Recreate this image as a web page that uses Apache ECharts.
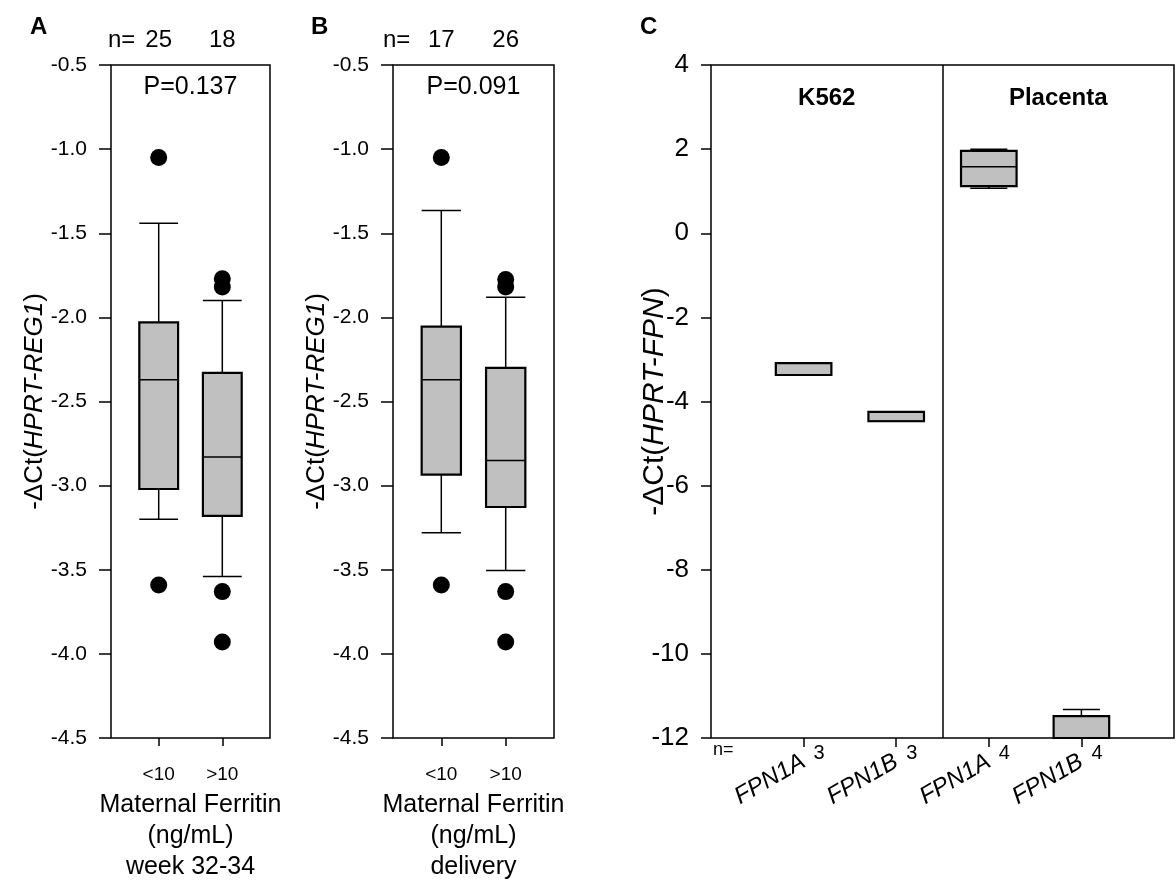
<!DOCTYPE html>
<html>
<head>
<meta charset="utf-8">
<script src="https://cdn.jsdelivr.net/npm/echarts@6/dist/echarts.min.js"></script>
<style>html,body{margin:0;padding:0;background:#fff}#c{width:1176px;height:882px}</style>
</head>
<body>
<div id="c"></div>
<script>
// ---------------- data ----------------
const catsAB = ['<10', '>10'];
const posAB = [1, 2];
const nA = [25, 18];
const nB = [17, 26];
const pTextA = 'P=0.137';
const pTextB = 'P=0.091';
// [min(whisker), Q1, median, Q3, max(whisker)]
const boxA = [[-3.20, -3.02, -2.37, -2.03, -1.44], [-3.54, -3.18, -2.83, -2.33, -1.90]];
const outA = [[-1.05, -3.59], [-1.77, -1.82, -3.63, -3.93]];
const boxB = [[-3.28, -2.935, -2.37, -2.055, -1.365], [-3.505, -3.127, -2.85, -2.30, -1.88]];
const outB = [[-1.05, -3.59], [-1.775, -1.82, -3.63, -3.93]];
const xTitleA = 'Maternal Ferritin\n(ng/mL)\nweek 32-34';
const xTitleB = 'Maternal Ferritin\n(ng/mL)\ndelivery';

const catsC = ['FPN1A', 'FPN1B', 'FPN1A', 'FPN1B'];
const posC = [1, 2, 3, 4];
const nC = [3, 3, 4, 4];
const boxC = [[-3.37, -3.37, -3.37, -3.09, -3.09], [-4.47, -4.47, -4.47, -4.245, -4.245],
              [1.07, 1.12, 1.58, 1.96, 1.995], [-12.0, -12.0, -12.0, -11.48, -11.32]];
const groupsC = ['K562', 'Placenta'];
const groupPosC = [1.25, 3.75];
const groupDividerC = 2.5;

// ---------------- styling / helpers ----------------
const FONT = '"Liberation Sans", Arial, Helvetica, sans-serif';
const BLACK = '#000';

function boxRenderer(halfBox, halfCap) {
  return function (params, api) {
    const x = api.value(0);
    const lo = api.value(1), q1 = api.value(2), med = api.value(3), q3 = api.value(4), hi = api.value(5);
    const c = (xx, v) => api.coord([xx, v]);
    const cx = c(x, med)[0];
    const bl = c(x - halfBox, q3), br = c(x + halfBox, q1);
    const capL = c(x - halfCap, med)[0], capR = c(x + halfCap, med)[0];
    const ls = { stroke: BLACK, lineWidth: 1.5, fill: null };
    const kids = [];
    if (hi > q3) {
      const yh = c(x, hi)[1], yq = c(x, q3)[1];
      kids.push({ type: 'line', shape: { x1: cx, y1: yq, x2: cx, y2: yh }, style: ls });
      kids.push({ type: 'line', shape: { x1: capL, y1: yh, x2: capR, y2: yh }, style: ls });
    }
    if (lo < q1) {
      const yl = c(x, lo)[1], yq = c(x, q1)[1];
      kids.push({ type: 'line', shape: { x1: cx, y1: yq, x2: cx, y2: yl }, style: ls });
      kids.push({ type: 'line', shape: { x1: capL, y1: yl, x2: capR, y2: yl }, style: ls });
    }
    kids.push({ type: 'rect', shape: { x: bl[0], y: bl[1], width: br[0] - bl[0], height: br[1] - bl[1] },
      style: { fill: '#c0c0c0', stroke: BLACK, lineWidth: 2.2 } });
    const ym = c(x, med)[1];
    kids.push({ type: 'line', shape: { x1: bl[0], y1: ym, x2: br[0], y2: ym }, style: ls });
    return { type: 'group', children: kids };
  };
}

function boxData(pos, boxes) { return boxes.map((b, i) => [pos[i]].concat(b)); }
function outData(pos, outs) { const r = []; outs.forEach((arr, i) => arr.forEach(v => r.push([pos[i], v]))); return r; }

const gridTop = 65, gridH = 673;
const grids = [
  { left: 111, top: gridTop, width: 159, height: gridH },
  { left: 393, top: gridTop, width: 161, height: gridH },
  { left: 711, top: gridTop, width: 463, height: gridH }
];
grids.forEach(g => { g.show = true; g.borderColor = BLACK; g.borderWidth = 1.5; g.backgroundColor = 'transparent';
  g.containLabel = false; g.outerBoundsMode = 'none'; });

function abBottomAxis(gi, title) {
  return {
    type: 'value', gridIndex: gi, position: 'bottom', min: 0.25, max: 2.75,
    axisLine: { show: false, onZero: false }, splitLine: { show: false },
    axisTick: { show: true, customValues: posAB, length: 8, lineStyle: { color: BLACK, width: 1.5 } },
    axisLabel: { customValues: posAB, formatter: v => catsAB[posAB.indexOf(v)] || '', margin: 27,
      fontSize: 19, color: BLACK, fontFamily: FONT },
    name: title, nameLocation: 'middle', nameGap: 52, nameMoveOverlap: false,
    nameTextStyle: { fontSize: 25, lineHeight: 31, color: BLACK, fontFamily: FONT, align: 'center' }
  };
}
function abTopAxis(gi, counts) {
  return {
    type: 'value', gridIndex: gi, position: 'top', min: 0.25, max: 2.75,
    axisLine: { show: false, onZero: false }, splitLine: { show: false }, axisTick: { show: false },
    axisLabel: { customValues: posAB, formatter: v => String(counts[posAB.indexOf(v)] ?? ''), margin: 13,
      fontSize: 24, color: BLACK, fontFamily: FONT }
  };
}
function abYAxis(gi) {
  return {
    type: 'value', gridIndex: gi, min: -4.5, max: -0.5, interval: 0.5,
    axisLine: { show: false, onZero: false }, splitLine: { show: false },
    axisTick: { show: true, length: 12, lineStyle: { color: BLACK, width: 1.5 } },
    axisLabel: { formatter: v => v.toFixed(1), margin: 24, fontSize: 21, color: BLACK, fontFamily: FONT },
    name: '{n|-\u0394Ct(}{i|HPRT-REG1}{n|)}', nameLocation: 'middle', nameGap: 63, nameMoveOverlap: false,
    nameTextStyle: { fontSize: 26, color: BLACK, fontFamily: FONT,
      rich: { n: { fontSize: 26, fontFamily: FONT, color: BLACK }, i: { fontSize: 26, fontFamily: FONT, fontStyle: 'italic', color: BLACK } } }
  };
}

const xAxes = [
  abBottomAxis(0, xTitleA), abTopAxis(0, nA),
  abBottomAxis(1, xTitleB), abTopAxis(1, nB),
  { type: 'value', gridIndex: 2, position: 'bottom', min: 0, max: 5,
    axisLine: { show: false, onZero: false }, splitLine: { show: false },
    axisTick: { show: true, customValues: posC, length: 9, lineStyle: { color: BLACK, width: 1.5 } },
    axisLabel: { customValues: posC, formatter: v => catsC[posC.indexOf(v)] || '', rotate: 30, margin: 22,
      fontSize: 24, fontStyle: 'italic', color: BLACK, fontFamily: FONT } },
  { type: 'value', gridIndex: 2, position: 'bottom', min: 0, max: 5,
    axisLine: { show: false, onZero: false }, splitLine: { show: false }, axisTick: { show: false },
    axisLabel: { customValues: posC, formatter: v => String(nC[posC.indexOf(v)] ?? ''), align: 'left',
      padding: [0, 0, 0, 10], margin: 5, fontSize: 20, color: BLACK, fontFamily: FONT } }
];

const yAxes = [
  abYAxis(0), abYAxis(1),
  { type: 'value', gridIndex: 2, min: -12, max: 4, interval: 2,
    axisLine: { show: false, onZero: false }, splitLine: { show: false },
    axisTick: { show: true, length: 10, lineStyle: { color: BLACK, width: 1.5 } },
    axisLabel: { formatter: v => String(v), margin: 22, fontSize: 26, color: BLACK, fontFamily: FONT },
    name: '{n|-\u0394Ct(}{i|HPRT-FPN}{n|)}', nameLocation: 'middle', nameGap: 41, nameMoveOverlap: false,
    nameTextStyle: { fontSize: 30, color: BLACK, fontFamily: FONT,
      rich: { n: { fontSize: 30, fontFamily: FONT, color: BLACK }, i: { fontSize: 30, fontFamily: FONT, fontStyle: 'italic', color: BLACK } } } }
];

const outlierStyle = { type: 'scatter', symbol: 'circle', symbolSize: 17, itemStyle: { color: BLACK, opacity: 1 }, z: 5 };

const series = [
  { type: 'custom', xAxisIndex: 0, yAxisIndex: 0, renderItem: boxRenderer(0.305, 0.305), data: boxData(posAB, boxA), encode: { x: 0, y: [1, 2, 3, 4, 5] } },
  Object.assign({ xAxisIndex: 0, yAxisIndex: 0, data: outData(posAB, outA) }, outlierStyle),
  { type: 'custom', xAxisIndex: 2, yAxisIndex: 1, renderItem: boxRenderer(0.305, 0.305), data: boxData(posAB, boxB), encode: { x: 0, y: [1, 2, 3, 4, 5] } },
  Object.assign({ xAxisIndex: 2, yAxisIndex: 1, data: outData(posAB, outB) }, outlierStyle),
  { type: 'custom', xAxisIndex: 4, yAxisIndex: 2, renderItem: boxRenderer(0.30, 0.20), data: boxData(posC, boxC), encode: { x: 0, y: [1, 2, 3, 4, 5] },
    markLine: { silent: true, symbol: ['none', 'none'], label: { show: false },
      lineStyle: { color: BLACK, width: 1.5, type: 'solid', opacity: 1 }, data: [{ xAxis: groupDividerC }] } },
  { type: 'scatter', xAxisIndex: 4, yAxisIndex: 2, symbolSize: 0, silent: true, itemStyle: { opacity: 1 },
    data: groupsC.map((g, i) => ({ value: [groupPosC[i], 3.2], name: g })),
    label: { show: true, position: 'inside', formatter: p => p.name, fontSize: 24, fontWeight: 'bold', color: BLACK, opacity: 1, fontFamily: FONT } }
];

function txt(x, y, text, size, extra) {
  return { type: 'text', x: x, y: y, silent: true,
    style: Object.assign({ text: text, fontSize: size, fontFamily: FONT, fill: BLACK, verticalAlign: 'middle', align: 'left' }, extra || {}) };
}
const graphic = [
  txt(30, 27, 'A', 24, { fontWeight: 'bold' }),
  txt(311, 27, 'B', 24, { fontWeight: 'bold' }),
  txt(640, 27, 'C', 24, { fontWeight: 'bold' }),
  txt(108, 40, 'n=', 24),
  txt(383, 40, 'n=', 24),
  txt(grids[0].left + grids[0].width / 2, 87, pTextA, 25, { align: 'center' }),
  txt(grids[1].left + grids[1].width / 2, 87, pTextB, 25, { align: 'center' }),
  txt(713, 750, 'n=', 18)
];

const chart = echarts.init(document.getElementById('c'), null, { renderer: 'canvas' });
chart.setOption({
  animation: false,
  backgroundColor: '#fff',
  grid: grids, xAxis: xAxes, yAxis: yAxes, series: series, graphic: graphic
});
</script>
</body>
</html>
